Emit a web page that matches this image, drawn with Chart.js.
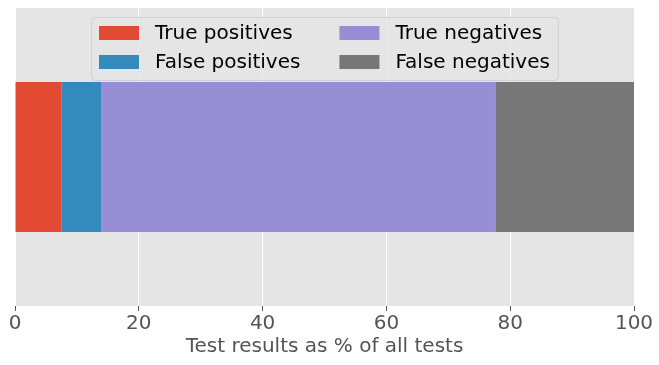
<!DOCTYPE html>
<html>
<head>
<meta charset="utf-8">
<script src="https://cdn.jsdelivr.net/npm/chart.js@4/dist/chart.umd.min.js"></script>
<style>
  html, body { margin: 0; padding: 0; background: #fff; }
  canvas { display: block; }
</style>
</head>
<body>
<canvas id="chart" width="659" height="365"></canvas>
<script>
// Data (share of all tests, %)
const categories = ['All tests'];
const seriesLabels = ['True positives', 'False positives', 'True negatives', 'False negatives'];
const truePositives = [7.55];
const falsePositives = [6.35];
const trueNegatives = [63.8];
const falseNegatives = [22.3];
const xTicks = [0, 20, 40, 60, 80, 100];

const colours = ['#E24A33', '#348ABD', '#988ED5', '#777777'];
const FONT = 'DejaVu Sans';
const FONT_SIZE = 20;

// ggplot-ish grey panel behind the grid
const panelBackground = {
  id: 'panelBackground',
  beforeDraw( chart ) {
    const { ctx, chartArea: a } = chart;
    ctx.save();
    ctx.fillStyle = '#E5E5E5';
    ctx.fillRect( a.left, a.top, a.right - a.left, a.bottom - a.top );
    ctx.restore();
  }
};

// Legend drawn inside the plot, upper centre, two columns (filled column-wise)
const insideLegend = {
  id: 'insideLegend',
  afterDraw( chart ) {
    const { ctx, chartArea: a } = chart;
    const sets = chart.data.datasets;
    const handleW = 40, handleH = 14, textPad = 16, colGap = 39, padX = 8;
    const rowGap = 29;
    ctx.save();
    ctx.font = FONT_SIZE + 'px "' + FONT + '"';
    const cols = [ sets.slice( 0, 2 ), sets.slice( 2, 4 ) ];
    const colW = cols.map( c => Math.max( ...c.map( d => ctx.measureText( d.label ).width ) ) );
    const boxW = padX * 2 + handleW * 2 + textPad * 2 + colGap + colW[0] + colW[1];
    const boxH = 63;
    const boxX = Math.round( ( a.left + a.right ) / 2 - boxW / 2 );
    const boxY = a.top + 9;

    ctx.beginPath();
    ctx.roundRect( boxX + 0.5, boxY + 0.5, boxW, boxH, 4 );
    ctx.fillStyle = 'rgba(229,229,229,0.8)';
    ctx.fill();
    ctx.strokeStyle = 'rgba(204,204,204,0.8)';
    ctx.lineWidth = 1;
    ctx.stroke();

    let x = boxX + padX;
    cols.forEach( ( col, ci ) => {
      col.forEach( ( d, ri ) => {
        const cy = boxY + 16 + ri * rowGap;
        ctx.fillStyle = d.backgroundColor;
        ctx.fillRect( x, cy - handleH / 2, handleW, handleH );
        ctx.fillStyle = '#000';
        ctx.textBaseline = 'middle';
        ctx.fillText( d.label, x + handleW + textPad, cy + 1 );
      } );
      x += handleW + textPad + colW[ci] + colGap;
    } );
    ctx.restore();
  }
};

const seriesValues = [ truePositives, falsePositives, trueNegatives, falseNegatives ];

new Chart( document.getElementById( 'chart' ), {
  type: 'bar',
  data: {
    labels: categories,
    datasets: seriesValues.map( ( vals, i ) => ( {
      label: seriesLabels[i],
      data: vals,
      backgroundColor: colours[i],
      borderWidth: 0,
      barPercentage: 1,
      categoryPercentage: 0.503
    } ) )
  },
  options: {
    indexAxis: 'y',
    responsive: false,
    animation: false,
    layout: { padding: { left: 15, right: 25, top: 8, bottom: 6 } },
    plugins: {
      legend: { display: false },
      tooltip: { enabled: false }
    },
    scales: {
      x: {
        stacked: true,
        min: 0,
        max: 100,
        afterBuildTicks( scale ) {
          scale.ticks = xTicks.map( v => ( { value: v } ) );
        },
        grid: {
          color: '#FFFFFF',
          lineWidth: 1,
          drawTicks: true,
          tickLength: 5,
          tickColor: '#555555',
          tickWidth: 1
        },
        border: { display: false },
        ticks: {
          color: '#555555',
          padding: 3,
          maxRotation: 0,
          font: { family: FONT, size: FONT_SIZE, lineHeight: 1.0 }
        },
        title: {
          display: true,
          text: 'Test results as % of all tests',
          color: '#555555',
          padding: { top: 0, bottom: 2 },
          font: { family: FONT, size: FONT_SIZE, lineHeight: 1.0 }
        }
      },
      y: {
        stacked: true,
        display: false
      }
    }
  },
  plugins: [ panelBackground, insideLegend ]
} );
</script>
</body>
</html>
